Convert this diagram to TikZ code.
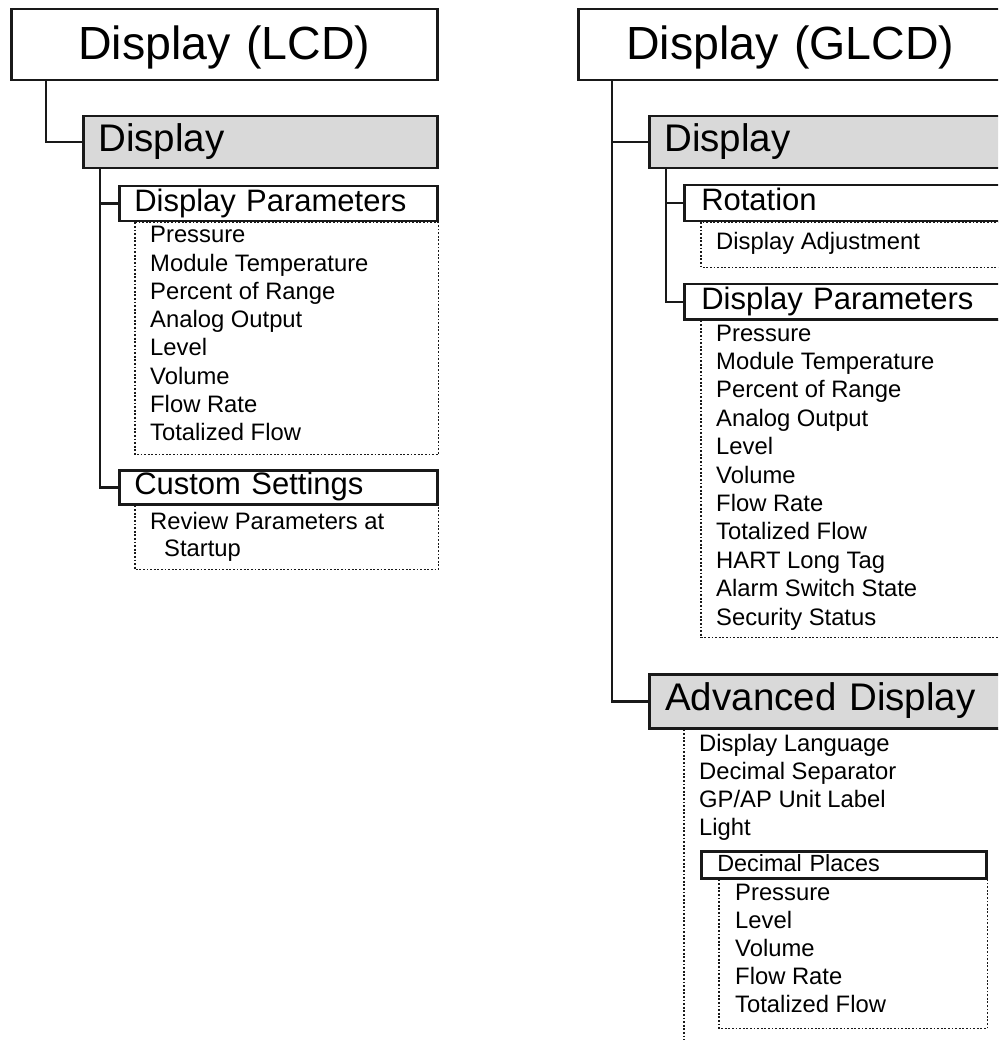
\documentclass[tikz,border=0pt]{standalone}
\usepackage{fontspec}
\setmainfont{Liberation Sans}
\usetikzlibrary{positioning,backgrounds}
\definecolor{boxgray}{RGB}{217,217,217}
\definecolor{inkline}{RGB}{25,25,25}
\tikzset{
  basebox/.style={rectangle,draw=inkline,line width=2.5pt,anchor=north west,inner ysep=0pt,inner xsep=15pt,align=left},
  hdrbox/.style={basebox,fill=white,align=center,minimum height=71pt,text height=33pt,text depth=4pt,font=\fontsize{46.5}{50}\selectfont},
  grpbox/.style={basebox,fill=boxgray,minimum height=52pt,text height=27.6pt,text depth=9pt,font=\fontsize{38.5}{42}\selectfont},
  subbox/.style={basebox,fill=white,minimum height=35pt,text height=22pt,text depth=7pt,font=\fontsize{31}{34}\selectfont},
  minibox/.style={basebox,fill=white,inner xsep=16pt,minimum height=27pt,text height=16.5pt,text depth=3.5pt,font=\fontsize{23.4}{27}\selectfont},
  itemtxt/.style={anchor=base west,inner sep=0pt,font=\fontsize{23.8}{27}\selectfont},
  conn/.style={draw=inkline,line width=2.5pt},
  listline/.style={draw=inkline,line width=1.3pt,dash pattern=on 1.8pt off 1.8pt}
}

\begin{document}
\begin{tikzpicture}[x=1pt,y=-1pt]
  \useasboundingbox (0,0) rectangle (998,1040);
  \clip (0,0) rectangle (998,1040);

  % LCD menu
  \node[hdrbox,text width=396pt] (lcd) at (10,8) {Display (LCD)};
  \node[grpbox,text width=324pt] (ldisp) at (82,115) {Display};
  \node[subbox,text width=288pt] (lparam) at (118,185) {Display Parameters};
  \node[subbox,text width=288pt,minimum height=34pt] (lcust) at (118,469) {Custom Settings};
  \foreach \txt [count=\i from 0] in {Pressure,Module Temperature,Percent of Range,Analog Output,Level,Volume,Flow Rate,Totalized Flow}
    \node[itemtxt] (lpar\i) at (150,{243+28.2*\i}) {\txt};
  \node[itemtxt] (lrev) at (150,529) {Review Parameters at};
  \node[itemtxt] (lstart) at (164,556) {Startup};

  \draw[conn] ([xshift=36pt]lcd.south west) |- (ldisp.west);
  \draw[conn] ([xshift=18pt]ldisp.south west) |- (lparam.west);
  \draw[conn] ([xshift=18pt]ldisp.south west) |- (lcust.west);

  % GLCD menu
  \node[hdrbox,text width=394pt] (glcd) at (577,8) {Display (GLCD)};
  \node[grpbox,text width=330pt] (rdisp) at (648,115) {Display};
  \node[subbox,text width=300pt,inner xsep=17pt,minimum height=36pt] (rrot) at (683,184) {Rotation};
  \node[subbox,text width=300pt,inner xsep=17pt] (rparam) at (683,283) {Display Parameters};
  \node[grpbox,text width=330pt,inner xsep=16pt,minimum height=54pt] (radv) at (648,673) {Advanced Display};
  \node[minibox,text width=253pt] (rdec) at (700,850) {Decimal Places};
  \node[itemtxt] (radj) at (716,250) {Display Adjustment};
  \foreach \txt [count=\i from 0] in {Pressure,Module Temperature,Percent of Range,Analog Output,Level,Volume,Flow Rate,Totalized Flow,HART Long Tag,Alarm Switch State,Security Status}
    \node[itemtxt] (rpar\i) at (716,{341+28.4*\i}) {\txt};
  \foreach \txt [count=\i from 0] in {Display Language,Decimal Separator,GP/AP Unit Label,Light}
    \node[itemtxt] (radv\i) at (699,{751+28.3*\i}) {\txt};
  \foreach \txt [count=\i from 0] in {Pressure,Level,Volume,Flow Rate,Totalized Flow}
    \node[itemtxt] (rdec\i) at (735,{900+28*\i}) {\txt};

  \draw[conn] ([xshift=35pt]glcd.south west) |- (rdisp.west);
  \draw[conn] ([xshift=35pt]glcd.south west) |- (radv.west);
  \draw[conn] ([xshift=18pt]rdisp.south west) |- (rrot.west);
  \draw[conn] ([xshift=18pt]rdisp.south west) |- (rparam.west);

  % dotted item lists
  \begin{scope}[on background layer]
    \clip (0,0) rectangle (998,1040);
    \fill[white] (0,0) rectangle (998,1040);
    \draw[listline] ([xshift=17pt]lparam.south west) rectangle ([yshift=-232pt]lparam.south east);
    \draw[listline] ([xshift=17pt]lcust.south west) rectangle ([yshift=-64pt]lcust.south east);
    \draw[listline] ([xshift=18pt]rrot.south west) rectangle ([yshift=-45pt]rrot.south east);
    \draw[listline] ([xshift=18pt]rparam.south west) rectangle ([yshift=-317pt]rparam.south east);
    \draw[listline] ([xshift=36pt]radv.south west) rectangle ([yshift=-340pt]radv.south east);
    \draw[listline] ([xshift=19pt]rdec.south west) rectangle ([yshift=-149pt]rdec.south east);
  \end{scope}
\end{tikzpicture}
\end{document}
